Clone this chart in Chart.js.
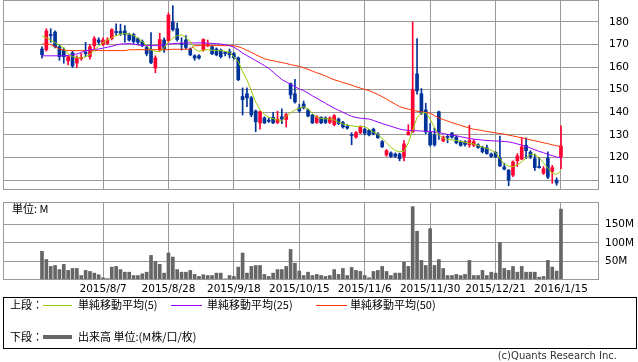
<!DOCTYPE html>
<html>
<head>
<meta charset="utf-8">
<script src="https://cdn.jsdelivr.net/npm/chart.js@4"></script>
<style>
  body { margin: 0; width: 638px; height: 362px; background: #fff; position: relative; overflow: hidden; font-family: "DejaVu Sans", sans-serif; }
  canvas { position: absolute; left: 0; }
  .txt { position: absolute; font-size: 11px; color: #000; white-space: nowrap; line-height: 1; }
  .jp { font-family: "Noto Sans CJK JP", sans-serif; }
  .seg { position: absolute; height: 1px; }
  #legendBox { position: absolute; left: 3px; top: 297px; width: 632px; height: 50px; border: 1px solid #000; }
</style>
</head>
<body>
<canvas id="priceChart" width="638" height="191" style="top:0"></canvas>
<canvas id="volChart" width="638" height="108" style="top:192px"></canvas>
<div class="txt jp" style="left:12px;top:203px;">単位: M</div>

<div id="legendBox"></div>
<div class="txt jp" style="left:10px;top:299px;">上段：</div>
<div class="seg" style="left:43px;top:305px;width:29px;background:#99cc00"></div>
<div class="txt jp" style="left:78px;top:299px;">単純移動平均(5)</div>
<div class="seg" style="left:171px;top:305px;width:31px;background:#9900ff"></div>
<div class="txt jp" style="left:207px;top:299px;">単純移動平均(25)</div>
<div class="seg" style="left:316px;top:305px;width:31px;background:#ff3300"></div>
<div class="txt jp" style="left:350px;top:299px;">単純移動平均(50)</div>
<div class="txt jp" style="left:10px;top:331px;">下段：</div>
<div class="seg" style="left:43px;top:335px;width:29px;height:4px;background:#666"></div>
<div class="txt jp" style="left:78px;top:331px;">出来高 単位:(M株/口/枚)</div>
<div class="txt" style="right:21px;top:351px;font-size:10px;color:#333;">(c)Quants Research Inc.</div>

<script>
// 日足データ (値は画像から読み取り)
const opens = [168,167.7,174.5,175.5,169,167.5,162.8,166.3,161.8,163.7,
  166.5,164.6,169.5,172,170,170.5,172.6,175.7,175.8,176,
  174.3,174.4,172.6,171.3,168.7,167.7,159.6,167.7,172,171.7,
  180,177,170.5,172,168,165,165,167.7,169.5,169,
  168,167.5,166.5,166.8,166,164.1,147,148.2,146.4,140.6,
  135.3,137.5,136.5,137.8,135.5,138,136.8,152.6,148.2,142,
  143.7,141,138.8,135.5,137.8,137.5,135.5,134.5,137,135.5,
  133.8,130,129,131,132.5,132,132.5,130.4,127,121.1,
  122,121.5,121.5,120.4,130,131.3,157,148.2,141,131,
  130,140.2,127.3,129.2,130.8,129,126.8,127,125.6,125.4,
  125.6,124.5,124.3,121.5,122.3,119.7,115.8,114.4,112.2,118.5,
  119.3,125.4,122.3,119.5,116,113,119.7,113.8,110,120.3];
const highs = [169,177,177,176,170,168.5,165,167,165,166,
  171,170,173.5,173,173,173,177,179.2,179,178.4,
  175,175,173,172,169.5,175.3,165,175,173,184,
  187.2,179.5,173,174,168.5,165.5,165.5,172.5,172,169.5,
  168.5,168,167,168,166.5,164.5,150.8,150.8,147,141,
  140.6,138,137.5,140,140.5,141.5,139.5,153,154.6,143.5,
  145,141.5,139,138.5,138,138,138,139,137.5,136,
  134.5,131,131.5,134,133,132.5,133,131,127.5,123.5,
  122.5,122,122,127.5,134.5,180,172.6,150.5,144,135,
  133,140.5,129.5,130,131,129.5,127.5,127.5,134.3,128,
  126,125,125.5,122,122.5,129.5,117.5,114.6,118.5,121.7,
  128.7,128.7,123,121.5,120,116,122.5,116.5,111,134];
const lows = [164,167,171,168.5,163,161.7,161,159.8,159.8,163,
  164.6,163.5,168,170,169.5,170,172,174,174,171,
  171.5,170.5,170,169,165,161.5,157.5,167,166.5,171,
  176,171.5,167.5,168,165,163,163.5,167,169,165.5,
  165,164,165,164,163.5,154,138.8,142.5,138,131.4,
  132.5,135,135.5,135,135,135,133.5,146,144,140,
  141.5,138,135,135,135,135,135,134,134.5,133,
  132.5,125.6,128.5,130.5,130,129.5,130,128.5,124.5,120.5,
  120,120,118.5,118.5,130,131,148,139,130.5,125,
  125,128,127,126.5,128.5,126,125,125,124.5,124.8,
  124,122,121.5,120,120,116,114.5,107.5,111.5,116,
  119,119.5,119.5,114.2,115.3,112.5,110.6,108.6,107.7,115];
const closes = [165.5,176,174,169,164.6,164.6,164.6,160.5,164,164.3,
  166,169,172.6,171,172,172,176.6,175.3,175,174.4,
  172,171.3,171,169.5,165.9,161.9,164.1,172.2,167.7,183,
  176.6,172.2,170,168.7,165.4,164,164,172.2,170,165.9,
  165.4,164.6,166,165.5,164.2,154.4,145.6,146.4,138.8,135.8,
  140.2,135.3,136,135.3,137,137,139,147.7,144.6,140.6,
  141.9,138.4,135.3,138,135.3,135.5,137.5,138.5,135,133.5,
  133,129.7,131,133.5,130.7,130,130.5,128.7,124.7,123,
  120.4,120.5,119.5,126,131.3,150,149.5,139.7,131.3,125.6,
  125.6,131,129,128.9,129,126.5,125.3,125.8,127.5,127,
  124.4,122.5,121.7,120.5,120.3,116.2,114.8,110,118,120.7,
  124.7,123,120.4,115.5,115.5,115,111.3,115.5,108.7,125.1];

// 移動平均
const ma5 = [173.9,173,171.9,170.8,169.8,168.5,165.8,164.6,164.2,164,
  164.6,165.5,167.5,169.3,170.8,172,173,174,174.6,174.8,
  174.6,174,172.8,171.3,169.5,167.6,167,166.8,168.5,171.2,
  172.8,173.9,174.3,173,171.4,168,167,167.5,167.7,167.5,
  167.3,167.3,167,166.5,164.5,162.5,158,154.4,149.5,144.5,
  141,139,137.8,137.2,136.6,136.3,138.2,139.8,141,141.8,
  142.4,141.5,139.5,137.8,137.3,137.1,137,136.6,135.6,134.8,
  134.3,134,133.7,133.7,133.7,132.5,131.2,130.2,128.5,126.4,
  124.6,123,122.6,122.6,126.5,132,137.8,139.7,139.9,137,
  133.2,130,128.5,127.8,127.8,127.5,127.1,126.8,126.3,125.9,
  125.3,124.6,124,123.2,122.2,119.5,117,116.2,115.9,116.8,
  118.1,119.8,121.4,121.3,120,117.6,115.2,113,112.5,114.1];
const ma25 = [165,165,165,165,165,165,165.2,165.5,165.8,166.5,
  167.2,167.6,167.8,168,168.4,168.8,169.2,169.8,170.2,170.3,
  170.4,170.2,169.8,169.5,169.5,169.5,169.5,169.6,169.9,170.2,
  170.4,170.5,170.6,170.7,170.7,170.7,170.7,170.7,170.6,170.5,
  170.4,170.2,169.9,169.5,168.8,167.6,166.2,165.1,164,162.9,
  161.8,160.7,159.4,157.8,156.1,154.5,153.4,152.4,151.3,150.3,
  149.6,148.5,147.3,146.2,145.1,144,142.9,141.8,140.9,140,
  139.1,138.2,137.7,137.4,137.2,137,136.4,135.7,135,134.4,
  133.8,133.2,132.6,132.2,132,131.9,131.8,131.7,131.6,131.5,
  131.3,131,130.6,130.2,129.9,129.6,129.2,128.8,128.4,128.1,
  127.9,127.7,127.5,127.4,127.3,127.2,127.1,126.9,126.5,126,
  125.5,124.9,124.2,123.4,122.7,122.1,121.4,120.8,120.2,119.8];
const ma50 = [170.2,170.2,170,169,168,167.5,167.3,167.3,167.3,167.3,
  167.3,167.3,167.3,167.3,167.3,167.3,167.3,167.3,167.3,167.3,
  167.7,167.7,167.7,167.7,167.7,167.7,167.7,167.7,167.7,167.7,
  167.9,167.9,167.9,167.9,167.9,169.5,169.5,169.5,169.5,169.5,
  169.5,169.5,169.5,169.5,169.5,169,168.3,167.4,166.5,165.5,
  164.6,163.7,163.2,162.8,162.4,162,161.6,161.1,160.7,160.3,
  159.7,159,158.2,157.5,156.8,156.1,155.2,154.4,153.8,153.2,
  152.6,152,151.3,150.7,150.1,149.6,148.8,147.9,146.9,145.8,
  144.7,143.6,142.5,141.9,141.4,140.9,140.5,140.2,139.9,139.6,
  138.5,137.5,136.8,136.1,135.4,134.8,134.2,133.6,133,132.5,
  132.2,131.9,131.5,131.2,130.9,130.6,130.3,129.9,129.5,129.1,
  128.7,128.3,127.8,127.4,127,126.5,126.1,125.6,125.2,124.8];

// 出来高 (M)
const volumes = [77,55,36.5,39,28,42,25.7,31,31,12,
  25.7,23,18.5,14,6,4,34.6,36.5,28,21,
  21,12,12,16.7,21,66,50,42,18.5,72.5,
  61.7,28,21,21,25.7,15,9.5,14,12,12,
  18.5,18.5,3,12,9.5,34.6,72.5,18.5,36.5,39,
  39,15,9.5,18.5,28,28,36.5,82,45,24,
  12,21,12,15,12,9.5,12,28,15,31,
  12,33.8,25.7,23,12,6,23,25.7,36.5,23,
  12,18.5,18.5,48,36.5,197,131,52.7,39,138,
  39,55,31,12,12,15,12,15,52.7,12,
  12,25.7,12,21,18.5,100.5,31,25.7,36.5,21,
  36.5,21,21,21,7.5,9.5,52.7,34.6,24,190.5];

// 目盛り
const tickIdx = [14, 29, 44, 59, 74, 89, 104, 119];
const dateLabels = ['2015/8/7', '2015/8/28', '2015/9/18', '2015/10/15', '2015/11/6', '2015/11/30', '2015/12/21', '2016/1/15'];
const priceTicks = [110, 120, 130, 140, 150, 160, 170, 180];
const volTicks = [50, 100, 150];

const UP = '#ff0033';
const DOWN = '#003399';
const GRID = '#999999';
const X_MIN = -8.94, X_MAX = 127.72;

const frame = {
    id: 'frame',
    afterDraw(chart) {
        const a = chart.chartArea;
        const c = chart.ctx;
        c.save();
        c.strokeStyle = GRID;
        c.lineWidth = 1;
        c.strokeRect(Math.round(a.left) + 0.5, Math.round(a.top) + 0.5,
            Math.round(a.right - a.left) - 1, Math.round(a.bottom - a.top) - 1);
        c.restore();
    }
};

// 軸ラベル分の余白を付けない
const noPad = s => { s.paddingTop = 0; s.paddingBottom = 0; s.paddingLeft = 0; s.paddingRight = 0; };

const candleColor = ctx => closes[ctx.dataIndex] >= opens[ctx.dataIndex] ? UP : DOWN;
const series = arr => arr.map((v, i) => ({ x: i, y: v }));

new Chart(document.getElementById('priceChart').getContext('2d'), {
    type: 'bar',
    data: {
        datasets: [
            { type: 'line', data: series(ma5), borderColor: '#99cc00', borderWidth: 1, pointRadius: 0, order: 0 },
            { type: 'line', data: series(ma25), borderColor: '#9900ff', borderWidth: 1, pointRadius: 0, order: 0 },
            { type: 'line', data: series(ma50), borderColor: '#ff3300', borderWidth: 1, pointRadius: 0, order: 0 },
            {
                data: opens.map((o, i) => ({ x: i, y: [o, closes[i]] })),
                backgroundColor: candleColor, barThickness: 3, minBarLength: 1, grouped: false, order: 1
            },
            {
                data: lows.map((l, i) => ({ x: i, y: [l, highs[i]] })),
                backgroundColor: candleColor, barThickness: 1, grouped: false, order: 2
            }
        ]
    },
    options: {
        responsive: false,
        animation: false,
        layout: { padding: { left: 3, top: 0, right: 0, bottom: 1 } },
        plugins: { legend: { display: false }, tooltip: { enabled: false } },
        scales: {
            x: {
                type: 'linear', min: X_MIN, max: X_MAX, offset: false,
                afterBuildTicks: s => { s.ticks = tickIdx.map(v => ({ value: v })); },
                afterFit: s => { s.height = 0; noPad(s); },
                ticks: { display: false },
                grid: { color: GRID, drawTicks: false, offset: false },
                border: { display: false }
            },
            y: {
                position: 'right', min: 105.6, max: 189.7,
                afterBuildTicks: s => { s.ticks = priceTicks.map(v => ({ value: v })); },
                afterFit: s => { s.width = 39; noPad(s); },
                ticks: { padding: 10, color: '#000', font: { family: 'DejaVu Sans', size: 10.5 } },
                grid: { color: GRID, drawTicks: false },
                border: { display: false }
            }
        }
    },
    plugins: [frame]
});

new Chart(document.getElementById('volChart').getContext('2d'), {
    type: 'bar',
    data: {
        datasets: [{
            data: series(volumes), backgroundColor: '#666666', barThickness: 3
        }]
    },
    options: {
        responsive: false,
        animation: false,
        layout: { padding: { left: 3, top: 10, right: 0, bottom: 2 } },
        plugins: { legend: { display: false }, tooltip: { enabled: false } },
        scales: {
            x: {
                type: 'linear', min: X_MIN, max: X_MAX, offset: false,
                afterBuildTicks: s => { s.ticks = tickIdx.map(v => ({ value: v })); },
                afterFit: s => { s.height = 18; noPad(s); },
                ticks: {
                    padding: 3, color: '#000', maxRotation: 0, autoSkip: false,
                    font: { family: 'DejaVu Sans', size: 10.5 },
                    callback: (v, i) => dateLabels[i]
                },
                grid: { color: GRID, drawTicks: false, offset: false },
                border: { display: false }
            },
            y: {
                position: 'right', min: 0, max: 209.5,
                afterBuildTicks: s => { s.ticks = volTicks.map(v => ({ value: v })); },
                afterFit: s => { s.width = 39; noPad(s); },
                ticks: {
                    padding: 6, color: '#000', font: { family: 'DejaVu Sans', size: 10.5 },
                    callback: v => v + 'M'
                },
                grid: { color: GRID, drawTicks: false },
                border: { display: false }
            }
        }
    },
    plugins: [frame]
});
</script>
</body>
</html>
